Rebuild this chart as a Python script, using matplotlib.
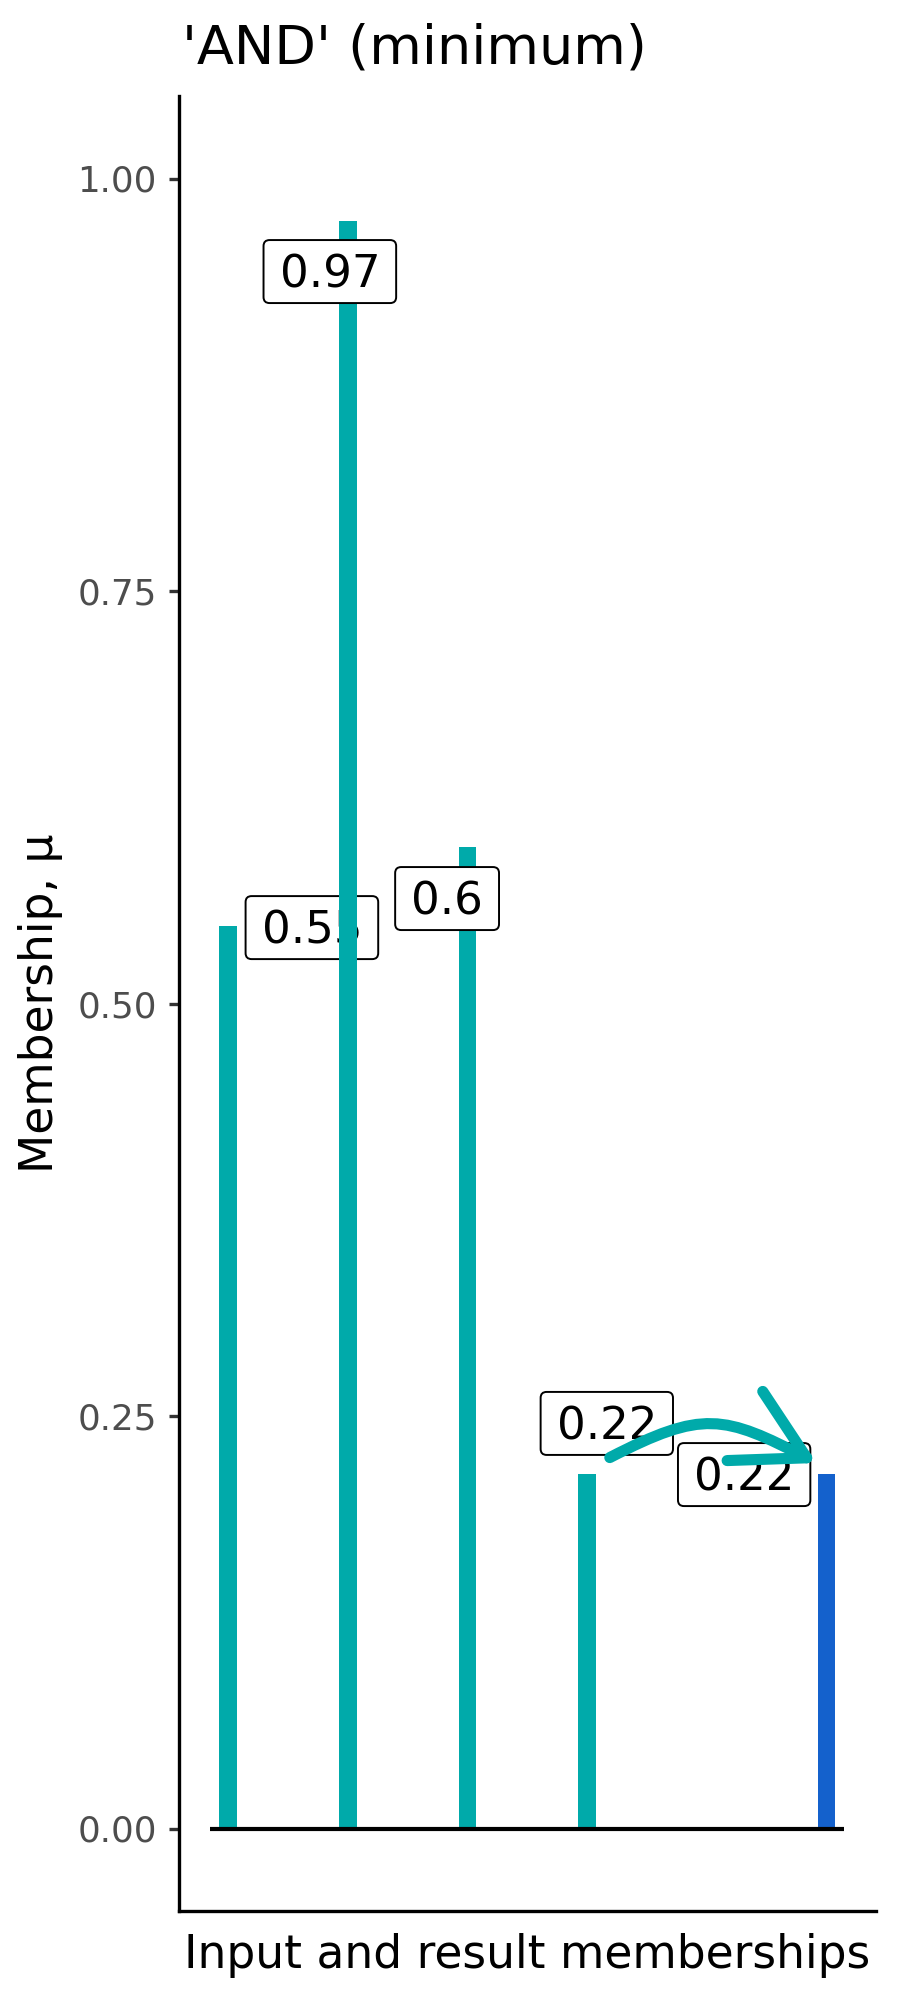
import matplotlib
matplotlib.use("Agg")
import matplotlib.pyplot as plt
from matplotlib.patches import FancyBboxPatch, FancyArrowPatch, ArrowStyle
from matplotlib.path import Path
from matplotlib.transforms import IdentityTransform

# ---- data ----
categories = [1, 2, 3, 4, 6]          # x positions of the memberships
values = [0.547, 0.974, 0.595, 0.215, 0.215]
bar_colors = ["#00AAAA", "#00AAAA", "#00AAAA", "#00AAAA", "#1461CC"]
label_texts = ["0.55", "0.97", "0.6", "0.22", "0.22"]
label_x = [1.70, 1.85, 2.83, 4.165, 5.313]
label_y = [0.546, 0.9436, 0.5636, 0.2455, 0.2145]
yticks = [0, 0.25, 0.5, 0.75, 1.0]
ytick_labels = ["0.00", "0.25", "0.50", "0.75", "1.00"]
arrow_from = (4.19, 0.2248)
arrow_to = (5.92, 0.2215)
title = "'AND' (minimum)"
xlabel = "Input and result memberships"
ylabel = "Membership, μ"

TEAL = "#00AAAA"
DPI = 100
W, H = 900, 2000
fig = plt.figure(figsize=(W / DPI, H / DPI), dpi=DPI, facecolor="white")
L, R, T, B = 178.5, 876, 96, 1911
ax = fig.add_axes([L / W, 1 - B / H, (R - L) / W, (B - T) / H])
ax.set_xlim(0.585, 6.415)
ax.set_ylim(-0.05, 1.05)
for s in ["top", "right"]:
    ax.spines[s].set_visible(False)
for s in ["left", "bottom"]:
    ax.spines[s].set_linewidth(2.4)
    ax.spines[s].set_color("black")
ax.set_xticks([])
ax.set_yticks(yticks, ytick_labels)
ax.tick_params(axis="y", length=7.0, width=2.4, color="#333333",
               labelcolor="#4D4D4D", labelsize=25.7, pad=8.6)

# bars
for i, (x, v, c) in enumerate(zip(categories, values, bar_colors)):
    ax.bar(x, v, width=0.146, color=c, linewidth=0, zorder=2 + 2 * i)

# zero line
ax.hlines(0, 0.85, 6.15, color="black", linewidth=3.0, zorder=50)

fig.canvas.draw()
renderer = fig.canvas.get_renderer()

# labels
for i, (txt, lx, ly) in enumerate(zip(label_texts, label_x, label_y)):
    t = ax.annotate(txt, xy=(lx, ly), xytext=(0, -16.4 * 72 / DPI),
                    textcoords="offset points", ha="center", va="baseline",
                    fontsize=32.5, color="black", zorder=3 + 2 * i + 0.5)
    w = t.get_window_extent(renderer).width
    cx, cy = ax.transData.transform((lx, ly))
    box = FancyBboxPatch((cx - w / 2 - 16, cy - 31.5), w + 32, 63,
                         boxstyle="round,pad=0,rounding_size=6",
                         transform=IdentityTransform(), facecolor="white",
                         edgecolor="black", linewidth=1.4,
                         zorder=3 + 2 * i, clip_on=False)
    ax.add_artist(box)

# curved arrow
p0 = ax.transData.transform(arrow_from)
p3 = ax.transData.transform(arrow_to)
chord = p3[0] - p0[0]
a = 0.45 * chord
h = 48
p1 = (p0[0] + a, p0[1] + h)
p2 = (p3[0] - a, p3[1] + h)
inv = ax.transData.inverted()
verts = inv.transform([p0, p1, p2, p3])
path = Path(verts, [Path.MOVETO, Path.CURVE4, Path.CURVE4, Path.CURVE4])
arr = FancyArrowPatch(path=path,
                      arrowstyle=ArrowStyle("->", head_length=50, head_width=28),
                      mutation_scale=1, linewidth=8.0, color=TEAL, zorder=60)
ax.add_patch(arr)

# texts
fig.text(182 / W, 1 - 63 / H, title, fontsize=39, ha="left", va="baseline")
fig.text(527 / W, 1 - 1968 / H, xlabel, fontsize=32.8, ha="center", va="baseline")
fig.text(41 / W, 1 - 1003 / H, ylabel, fontsize=32.8, rotation=90,
         ha="center", va="center")

fig.savefig("out.png", dpi=DPI, facecolor="white")
